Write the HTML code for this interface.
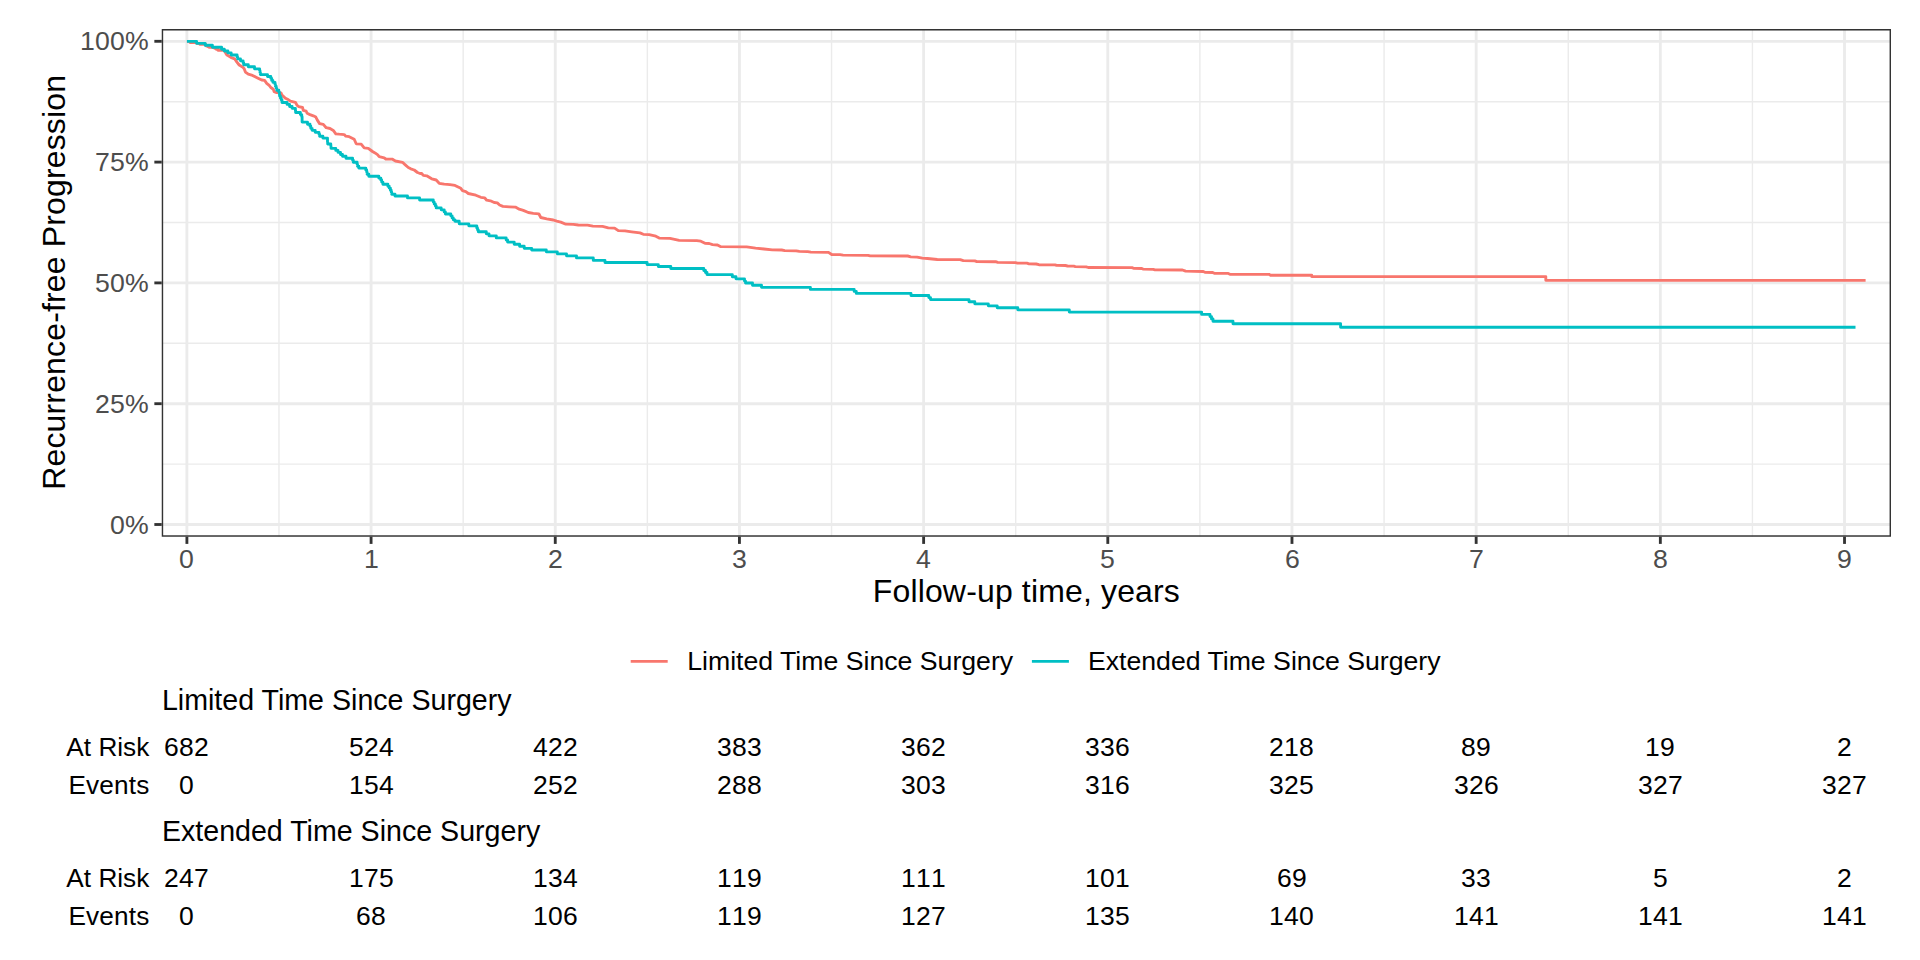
<!DOCTYPE html>
<html><head><meta charset="utf-8"><title>Recurrence-free Progression</title>
<style>
html,body{margin:0;padding:0;background:#fff}
svg{display:block}
text{font-family:"Liberation Sans",Arial,sans-serif}
.ax{font-size:26.67px;fill:#4D4D4D;letter-spacing:.2px;font-kerning:none}
.ti{font-size:32px;fill:#000;letter-spacing:.15px}
.lg{font-size:26.67px;fill:#000}
.st{font-size:28.6px;fill:#000}
.tb{font-size:26.5px;fill:#000;letter-spacing:.26px;font-kerning:none}
.tl{font-size:26.2px;fill:#000}
</style></head><body>
<svg width="1920" height="960" viewBox="0 0 1920 960">
<rect width="1920" height="960" fill="#fff"/>
<defs><clipPath id="pc"><rect x="161.75" y="29.1" width="1729.25" height="507.6"/></clipPath></defs>
<g clip-path="url(#pc)">
<g stroke="#EBEBEB" stroke-width="1.42" fill="none">
<line x1="278.99" y1="29.1" x2="278.99" y2="536.7"/><line x1="463.17" y1="29.1" x2="463.17" y2="536.7"/><line x1="647.35" y1="29.1" x2="647.35" y2="536.7"/><line x1="831.53" y1="29.1" x2="831.53" y2="536.7"/><line x1="1015.71" y1="29.1" x2="1015.71" y2="536.7"/><line x1="1199.89" y1="29.1" x2="1199.89" y2="536.7"/><line x1="1384.07" y1="29.1" x2="1384.07" y2="536.7"/><line x1="1568.25" y1="29.1" x2="1568.25" y2="536.7"/><line x1="1752.43" y1="29.1" x2="1752.43" y2="536.7"/><line x1="161.75" y1="464.10" x2="1891" y2="464.10"/><line x1="161.75" y1="343.30" x2="1891" y2="343.30"/><line x1="161.75" y1="222.50" x2="1891" y2="222.50"/><line x1="161.75" y1="101.70" x2="1891" y2="101.70"/></g>
<g stroke="#EBEBEB" stroke-width="2.85" fill="none">
<line x1="186.90" y1="29.1" x2="186.90" y2="536.7"/><line x1="371.08" y1="29.1" x2="371.08" y2="536.7"/><line x1="555.26" y1="29.1" x2="555.26" y2="536.7"/><line x1="739.44" y1="29.1" x2="739.44" y2="536.7"/><line x1="923.62" y1="29.1" x2="923.62" y2="536.7"/><line x1="1107.80" y1="29.1" x2="1107.80" y2="536.7"/><line x1="1291.98" y1="29.1" x2="1291.98" y2="536.7"/><line x1="1476.16" y1="29.1" x2="1476.16" y2="536.7"/><line x1="1660.34" y1="29.1" x2="1660.34" y2="536.7"/><line x1="1844.52" y1="29.1" x2="1844.52" y2="536.7"/><line x1="161.75" y1="524.50" x2="1891" y2="524.50"/><line x1="161.75" y1="403.70" x2="1891" y2="403.70"/><line x1="161.75" y1="282.90" x2="1891" y2="282.90"/><line x1="161.75" y1="162.10" x2="1891" y2="162.10"/><line x1="161.75" y1="41.30" x2="1891" y2="41.30"/></g>
<path d="M186.9 41.3L190.0 41.3L190.0 42.5L196.5 42.5L196.5 43.3L200.0 43.3L200.0 44.4L205.8 44.4L205.8 45.7L207.5 45.7L207.5 46.5L209.0 46.5L209.0 47.3L214.5 47.3L214.5 48.3L216.2 48.3L216.2 49.2L218.0 49.2L218.0 50.2L224.5 50.2L224.5 51.2L225.3 51.2L225.3 52.5L226.0 52.5L226.0 53.8L226.8 53.8L226.8 55.0L227.9 55.5L230.8 57.3L234.6 58.8L236.9 62.1L239.2 65.0L242.5 66.9L244.2 68.8L245.4 72.1L248.3 74.2L252.5 75.4L257.5 77.9L261.7 80.0L264.6 80.4L266.7 83.3L269.2 85.4L270.8 87.5L273.3 89.2L274.2 91.7L276.7 92.7L281.0 92.9L282.0 95.2L284.2 97.1L285.0 97.9L287.5 99.2L290.4 101.2L295.4 102.3L297.1 105.4L298.8 106.7L302.5 107.5L303.3 110.4L306.2 111.2L307.1 113.3L310.0 114.6L313.3 115.8L315.8 117.1L317.5 120.4L319.6 123.6L323.3 124.4L326.2 127.7L330.0 128.5L333.3 130.4L335.8 133.8L339.2 134.2L344.2 134.6L345.8 136.2L349.2 136.7L354.2 139.2L356.2 143.8L361.2 144.2L364.2 147.9L368.3 148.3L372.5 151.5L375.0 152.9L377.5 154.6L379.2 156.7L384.2 157.8L385.8 159.0L392.1 159.1L395.4 161.0L402.5 162.3L405.0 164.6L408.3 167.5L410.8 168.8L414.2 170.0L417.5 172.5L420.0 173.5L421.7 173.5L423.3 175.4L426.7 175.8L431.7 178.8L436.2 180.0L439.2 183.3L444.2 184.2L450.0 184.6L455.0 185.4L460.8 188.3L462.5 190.6L465.8 191.7L468.3 193.5L475.8 195.2L480.8 197.3L484.6 197.8L486.7 200.2L490.4 200.8L494.2 202.5L497.3 202.9L499.6 205.0L502.9 206.4L509.2 206.8L515.4 207.1L519.2 209.2L523.3 210.4L528.3 212.5L533.3 213.3L538.8 213.8L540.8 217.5L546.7 218.8L553.3 220.0L556.7 221.2L560.8 222.1L565.8 224.2L573.3 224.3L578.3 225.0L587.5 225.2L592.9 226.2L602.5 226.4L608.3 227.9L614.6 228.1L618.3 230.6L625.0 230.8L631.7 231.8L640.0 232.9L643.3 234.3L649.2 234.6L655.8 236.2L659.2 238.1L670.0 238.3L679.2 240.4L696.7 240.6L700.8 241.2L705.0 243.3L709.2 243.5L712.5 244.6L717.5 245.0L720.8 246.7L746.7 246.9L755.6 248.1L764.0 249.0L772.3 249.8L781.7 250.0L784.8 250.6L796.2 250.8L799.4 251.4L807.7 251.6L810.8 252.1L828.5 252.3L831.7 254.5L840.0 254.7L843.1 255.2L868.1 255.4L870.2 255.9L907.7 256.0L910.8 256.8L917.1 257.1L922.3 258.1L927.5 258.5L937.3 259.5L960.2 259.6L963.3 260.7L974.8 260.8L976.9 261.6L995.6 261.7L997.7 262.4L1015.4 262.6L1017.5 263.1L1026.9 263.2L1029.0 263.9L1036.2 264.0L1038.9 264.7L1055.0 264.8L1056.6 265.4L1065.4 265.5L1067.5 266.0L1073.8 266.2L1075.3 266.7L1086.2 266.8L1088.3 267.5L1132.0 267.6L1133.5 268.3L1141.9 268.5L1143.4 269.2L1153.3 269.4L1154.9 269.9L1182.5 270.0L1185.6 271.2L1203.3 271.5L1204.9 272.3L1212.7 272.5L1214.3 273.3L1228.3 273.4L1229.9 274.2L1269.0 274.3L1270.5 275.2L1311.7 275.2L1311.7 276.6L1545.8 276.6L1545.8 280.3L1865.6 280.3" fill="none" stroke="#F8766D" stroke-width="2.85" stroke-linejoin="round" stroke-linecap="butt"/>
<path d="M186.9 41.3H196.6V43.3H205.2V45.2H212.4V47.2H221.6V49.2H224.3V51.0H227.9V52.9H231.2V55.0H237.1V57.0H237.6V58.9H240.5V60.8H243.1V62.8H243.7V64.7H248.3V66.7H254.5V68.8H259.6V70.6H260.0V72.6H260.4V74.6H267.5V76.5H270.8V78.3H271.7V80.4H272.9V82.3H275.0V84.2H275.4V86.2H276.2V88.3H276.7V90.2H278.8V92.1H279.4V94.2H279.6V96.0H280.4V97.9H281.2V99.8H282.0V102.5H287.1V104.4H289.6V106.5H292.1V108.3H295.4V110.4H295.6V112.5H300.4V114.6H301.7V116.7H302.1V118.5H302.1V120.3H302.1V122.1H307.5V124.2H310.0V126.2H310.8V128.3H312.1V130.3H315.2V132.3H319.0V134.2H319.6V136.2H322.9V138.1H327.5V140.0H327.5V142.1H327.7V144.0H330.8V146.0H331.0V148.3H335.8V150.4H338.0V152.3H340.5V154.5H342.5V156.2H346.0V158.2H352.6V160.2H353.3V162.2H357.1V164.2H357.5V166.2H358.8V168.1H365.8V170.0H366.7V172.1H367.1V174.2H368.8V176.2H378.8V178.1H380.8V180.0H381.7V182.1H382.9V184.2H387.9V186.2H389.2V188.1H390.4V190.2H391.2V192.1H391.7V194.2H395.0V196.0H407.5V197.9H419.6V200.0H433.3V202.1H434.2V204.0H435.4V206.0H436.2V207.9H441.2V209.8H444.2V211.9H445.4V214.0H450.8V215.8H452.1V217.9H453.3V219.8H455.0V221.2H459.2V223.8H468.8V225.8H476.8V227.9H477.5V229.8H478.3V231.7H486.3V233.8H489.0V235.8H496.3V237.9H506.2V240.0H507.6V242.1H514.2V244.2H519.6V246.2H524.2V248.3H531.7V250.0H546.3V251.8H557.3V253.8H566.5V255.8H576.5V257.9H593.3V260.4H605.0V262.5H647.1V264.6H658.3V266.5H670.8V268.5H703.8V270.5H705.5V272.5H707.0V274.6H732.3V276.7H736.0V278.8H744.5V281.1H745.5V283.0H752.5V285.2H761.5V287.3H810.4V289.4H854.2V291.4H856.3V293.4H911.0V295.5H928.8V297.6H930.5V299.6H969.0V301.7H974.8V303.8H988.3V305.8H997.2V307.7H1017.8V309.8H1069.3V312.1H1201.6V314.4H1210.0V316.6H1211.5V318.9H1213.0V321.2H1233.0V323.7H1340.6V327.2H1855.5" fill="none" stroke="#00BFC4" stroke-width="2.85" stroke-linejoin="round" stroke-linecap="butt"/>
<rect x="161.75" y="29.1" width="1729.25" height="507.6" fill="none" stroke="#333333" stroke-width="2.85"/>
</g>
<g stroke="#333333" stroke-width="2.85">
<line x1="186.90" y1="536.7" x2="186.90" y2="543.9"/><line x1="371.08" y1="536.7" x2="371.08" y2="543.9"/><line x1="555.26" y1="536.7" x2="555.26" y2="543.9"/><line x1="739.44" y1="536.7" x2="739.44" y2="543.9"/><line x1="923.62" y1="536.7" x2="923.62" y2="543.9"/><line x1="1107.80" y1="536.7" x2="1107.80" y2="543.9"/><line x1="1291.98" y1="536.7" x2="1291.98" y2="543.9"/><line x1="1476.16" y1="536.7" x2="1476.16" y2="543.9"/><line x1="1660.34" y1="536.7" x2="1660.34" y2="543.9"/><line x1="1844.52" y1="536.7" x2="1844.52" y2="543.9"/><line x1="154.35" y1="524.50" x2="161.75" y2="524.50"/><line x1="154.35" y1="403.70" x2="161.75" y2="403.70"/><line x1="154.35" y1="282.90" x2="161.75" y2="282.90"/><line x1="154.35" y1="162.10" x2="161.75" y2="162.10"/><line x1="154.35" y1="41.30" x2="161.75" y2="41.30"/></g>
<text class="ax" x="179" y="567.6">0</text><text class="ax" x="364" y="567.6">1</text><text class="ax" x="548" y="567.6">2</text><text class="ax" x="732" y="567.6">3</text><text class="ax" x="916" y="567.6">4</text><text class="ax" x="1100" y="567.6">5</text><text class="ax" x="1285" y="567.6">6</text><text class="ax" x="1469" y="567.6">7</text><text class="ax" x="1653" y="567.6">8</text><text class="ax" x="1837" y="567.6">9</text>
<text class="ax" x="149" y="533.90" text-anchor="end">0%</text><text class="ax" x="149" y="413.00" text-anchor="end">25%</text><text class="ax" x="149" y="292.00" text-anchor="end">50%</text><text class="ax" x="149" y="171.00" text-anchor="end">75%</text><text class="ax" x="149" y="50.00" text-anchor="end">100%</text>
<text class="ti" x="1026.4" y="601.5" text-anchor="middle">Follow-up time, years</text>
<text class="ti" transform="translate(64.5,282.3) rotate(-90)" text-anchor="middle">Recurrence-free Progression</text>
<line x1="630.7" y1="661.3" x2="667.7" y2="661.3" stroke="#F8766D" stroke-width="2.85"/>
<text class="lg" x="687.2" y="670.3">Limited Time Since Surgery</text>
<line x1="1031.9" y1="661.3" x2="1068.9" y2="661.3" stroke="#00BFC4" stroke-width="2.85"/>
<text class="lg" x="1087.9" y="670.3">Extended Time Since Surgery</text>
<text class="st" transform="translate(161.9,709.8) scale(1,1.045)">Limited Time Since Surgery</text>
<text class="st" transform="translate(161.9,840.8) scale(1,1.045)">Extended Time Since Surgery</text>
<text class="tl" x="149.3" y="755.7" text-anchor="end">At Risk</text><text class="tb" x="164" y="755.7">682</text><text class="tb" x="349" y="755.7">524</text><text class="tb" x="533" y="755.7">422</text><text class="tb" x="717" y="755.7">383</text><text class="tb" x="901" y="755.7">362</text><text class="tb" x="1085" y="755.7">336</text><text class="tb" x="1269" y="755.7">218</text><text class="tb" x="1461" y="755.7">89</text><text class="tb" x="1645" y="755.7">19</text><text class="tb" x="1837" y="755.7">2</text>
<text class="tl" x="149.5" y="794" text-anchor="end" style="letter-spacing:.17px">Events</text><text class="tb" x="179" y="794">0</text><text class="tb" x="349" y="794">154</text><text class="tb" x="533" y="794">252</text><text class="tb" x="717" y="794">288</text><text class="tb" x="901" y="794">303</text><text class="tb" x="1085" y="794">316</text><text class="tb" x="1269" y="794">325</text><text class="tb" x="1454" y="794">326</text><text class="tb" x="1638" y="794">327</text><text class="tb" x="1822" y="794">327</text>
<text class="tl" x="149.3" y="886.7" text-anchor="end">At Risk</text><text class="tb" x="164" y="886.7">247</text><text class="tb" x="349" y="886.7">175</text><text class="tb" x="533" y="886.7">134</text><text class="tb" x="717" y="886.7">119</text><text class="tb" x="901" y="886.7">111</text><text class="tb" x="1085" y="886.7">101</text><text class="tb" x="1277" y="886.7">69</text><text class="tb" x="1461" y="886.7">33</text><text class="tb" x="1653" y="886.7">5</text><text class="tb" x="1837" y="886.7">2</text>
<text class="tl" x="149.5" y="924.5" text-anchor="end" style="letter-spacing:.17px">Events</text><text class="tb" x="179" y="924.5">0</text><text class="tb" x="356" y="924.5">68</text><text class="tb" x="533" y="924.5">106</text><text class="tb" x="717" y="924.5">119</text><text class="tb" x="901" y="924.5">127</text><text class="tb" x="1085" y="924.5">135</text><text class="tb" x="1269" y="924.5">140</text><text class="tb" x="1454" y="924.5">141</text><text class="tb" x="1638" y="924.5">141</text><text class="tb" x="1822" y="924.5">141</text>
</svg>
</body></html>
